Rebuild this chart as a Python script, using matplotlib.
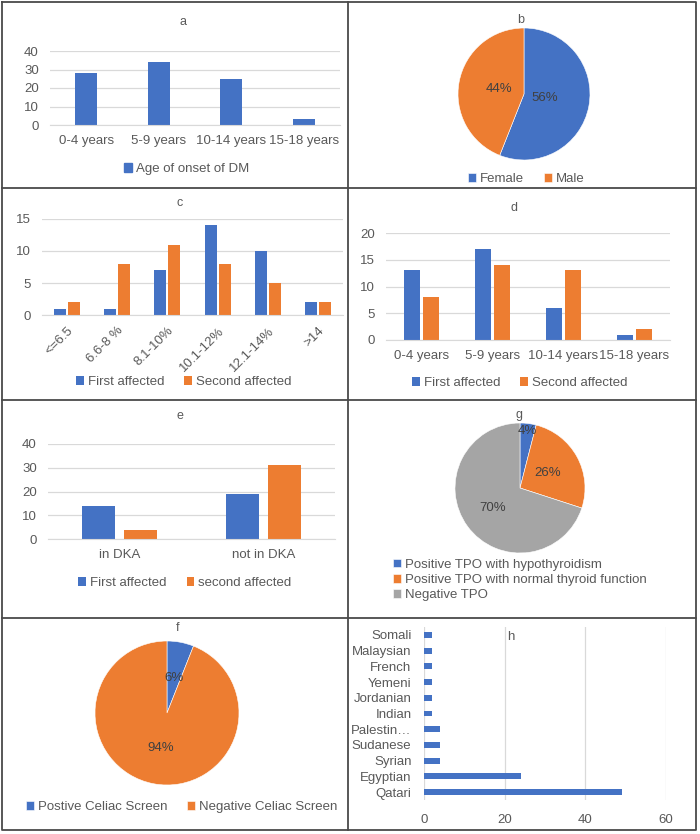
import numpy as np
import matplotlib.pyplot as plt
from matplotlib.lines import Line2D
from matplotlib.patches import Patch

plt.rcParams['font.family'] = ['Liberation Sans', 'DejaVu Sans']

# ==== DATA ===================================================
age_cats = ["0-4 years", "5-9 years", "10-14 years", "15-18 years"]
age_onset = [28, 34, 25, 3]

sex_labels = ["Female", "Male"]
sex_pct = [56, 44]

hba1c_cats = ["<=6.5", "6.6-8 %", "8.1-10%", "10.1-12%", "12.1-14%", ">14"]
hba1c_first = [1, 1, 7, 14, 10, 2]
hba1c_second = [2, 8, 11, 8, 5, 2]

age_first = [13, 17, 6, 1]
age_second = [8, 14, 13, 2]

dka_cats = ["in DKA", "not in DKA"]
dka_first = [14, 19]
dka_second = [4, 31]

tpo_labels = ["Positive TPO with hypothyroidism",
              "Positive TPO with normal thyroid function",
              "Negative TPO"]
tpo_pct = [4, 26, 70]

celiac_labels = ["Postive Celiac Screen", "Negative Celiac Screen"]
celiac_pct = [6, 94]

nat_labels = ["Qatari", "Egyptian", "Syrian", "Sudanese", "Palestin\u2026",
              "Indian", "Jordanian", "Yemeni", "French", "Malaysian", "Somali"]
nat_counts = [49, 24, 4, 4, 4, 2, 2, 2, 2, 2, 2]

# ============================================================

BLUE, ORANGE, GRAY = "#4472C4", "#ED7D31", "#A5A5A5"
TXT = "#595959"
GRID = "#D9D9D9"
FS = 9.5

W, H = 700, 834
fig = plt.figure(figsize=(W / 100, H / 100), dpi=100)


def box(x0, y0, x1, y1):
    return fig.add_axes([x0 / W, 1 - y1 / H, (x1 - x0) / W, (y1 - y0) / H])


def fline(xs, ys):
    fig.add_artist(Line2D([x / W for x in xs], [1 - y / H for y in ys],
                          color="#4a4a4a", lw=1.3))


def title(x, y, s):
    fig.text(x / W, 1 - y / H, s, ha="center", va="center", fontsize=9, color=TXT)


def legend(ax, handles, labels, x, y, ncol, loc="center"):
    ax.legend(handles, labels, loc=loc, bbox_to_anchor=(x / W, 1 - y / H),
              bbox_transform=fig.transFigure, ncol=ncol, frameon=False,
              fontsize=FS, labelcolor=TXT, handlelength=0.6, handleheight=0.6,
              handletextpad=0.3, columnspacing=1.5, labelspacing=0.25,
              borderpad=0, borderaxespad=0)


def style_bar(ax, ymax, step):
    ax.set_ylim(0, ymax)
    ax.set_yticks(range(0, ymax + 1, step))
    ax.yaxis.grid(True, color=GRID, lw=0.9)
    ax.set_axisbelow(True)
    for s in ["top", "right", "left"]:
        ax.spines[s].set_visible(False)
    ax.spines["bottom"].set_color(GRID)
    ax.tick_params(length=0, colors=TXT, labelsize=FS)
    ax.tick_params(axis="y", pad=8)
    ax.tick_params(axis="x", pad=7)


def pie(ax, vals, colors, dists):
    wedges, _ = ax.pie(vals, colors=colors, startangle=90, counterclock=False,
                       wedgeprops=dict(edgecolor="white", linewidth=0.4))
    for w, v, d in zip(wedges, vals, dists):
        ang = np.deg2rad((w.theta1 + w.theta2) / 2)
        ax.text(d * np.cos(ang), d * np.sin(ang), f"{v}%", ha="center",
                va="center", fontsize=FS, color="#404040")
    ax.set_xlim(-1, 1)
    ax.set_ylim(-1, 1)
    return wedges


# frame grid
fline([2, 696, 696, 2, 2], [2, 2, 830, 830, 2])
fline([348, 348], [2, 830])
for yy in [188, 400, 618]:
    fline([2, 696], [yy, yy])

# ---- a ----
ax = box(50, 51, 340, 125)
x = np.arange(len(age_cats))
ax.bar(x, age_onset, width=0.31, color=BLUE)
ax.set_xticks(x, age_cats)
ax.set_xlim(-0.5, len(age_cats) - 0.5)
style_bar(ax, 40, 10)
title(183, 22, "a")
legend(ax, [Patch(color=BLUE)], ["Age of onset of DM"], 187, 169, 1)

# ---- b ----
ax = box(458, 28, 590, 160)
w = pie(ax, sex_pct, [BLUE, ORANGE], [0.32, 0.38])
title(521, 20, "b")
legend(ax, w, sex_labels, 526, 179, 2)

# ---- c ----
ax = box(42, 219, 343, 315)
x = np.arange(len(hba1c_cats))
bw = 0.24
ax.bar(x - bw / 2 - 0.02, hba1c_first, width=bw, color=BLUE, label="First affected")
ax.bar(x + bw / 2 + 0.02, hba1c_second, width=bw, color=ORANGE, label="Second affected")
ax.set_xticks(x, hba1c_cats, rotation=45, ha="right", rotation_mode="anchor")
ax.set_xlim(-0.5, len(hba1c_cats) - 0.5)
style_bar(ax, 15, 5)
title(180, 203, "c")
h, l = ax.get_legend_handles_labels()
legend(ax, h, l, 184, 382, 2)

# ---- d ----
ax = box(386, 233, 670, 340)
x = np.arange(len(age_cats))
bw = 0.23
ax.bar(x - bw / 2 - 0.02, age_first, width=bw, color=BLUE, label="First affected")
ax.bar(x + bw / 2 + 0.02, age_second, width=bw, color=ORANGE, label="Second affected")
ax.set_xticks(x, age_cats)
ax.set_xlim(-0.5, len(age_cats) - 0.5)
style_bar(ax, 20, 5)
title(514, 208, "d")
h, l = ax.get_legend_handles_labels()
legend(ax, h, l, 520, 383, 2)

# ---- e ----
ax = box(48, 444, 335, 539)
x = np.arange(len(dka_cats))
bw = 0.23
ax.bar(x - bw / 2 - 0.03, dka_first, width=bw, color=BLUE, label="First affected")
ax.bar(x + bw / 2 + 0.03, dka_second, width=bw, color=ORANGE, label="second affected")
ax.set_xticks(x, dka_cats)
ax.set_xlim(-0.5, len(dka_cats) - 0.5)
style_bar(ax, 40, 10)
title(180, 416, "e")
h, l = ax.get_legend_handles_labels()
legend(ax, h, l, 185, 583, 2)

# ---- g ----
ax = box(455, 423, 585, 553)
w = pie(ax, tpo_pct, [BLUE, ORANGE, GRAY], [0.89, 0.48, 0.52])
title(519, 415, "g")
legend(ax, w, tpo_labels, 393, 580, 1, loc="center left")

# ---- f ----
ax = box(95, 641, 239, 785)
w = pie(ax, celiac_pct, [BLUE, ORANGE], [0.5, 0.5])
title(178, 628, "f")
legend(ax, w, celiac_labels, 182, 807, 2)

# ---- h ----
ax = box(424, 627, 666, 800)
y = np.arange(len(nat_labels))
ax.barh(y, nat_counts, height=0.38, color=BLUE)
ax.set_yticks(y, nat_labels)
ax.set_ylim(-0.5, len(nat_labels) - 0.5)
ax.set_xlim(0, 60)
ax.set_xticks([0, 20, 40, 60])
ax.xaxis.grid(True, color=GRID, lw=0.9)
ax.set_axisbelow(True)
for s in ax.spines.values():
    s.set_visible(False)
ax.tick_params(length=0, colors=TXT, labelsize=FS)
ax.tick_params(axis="y", pad=9)
ax.tick_params(axis="x", pad=10)
ax.text(0.36, 0.94, "h", transform=ax.transAxes, ha="center", va="center",
        fontsize=FS, color=TXT)

fig.savefig("out.png", dpi=100)
